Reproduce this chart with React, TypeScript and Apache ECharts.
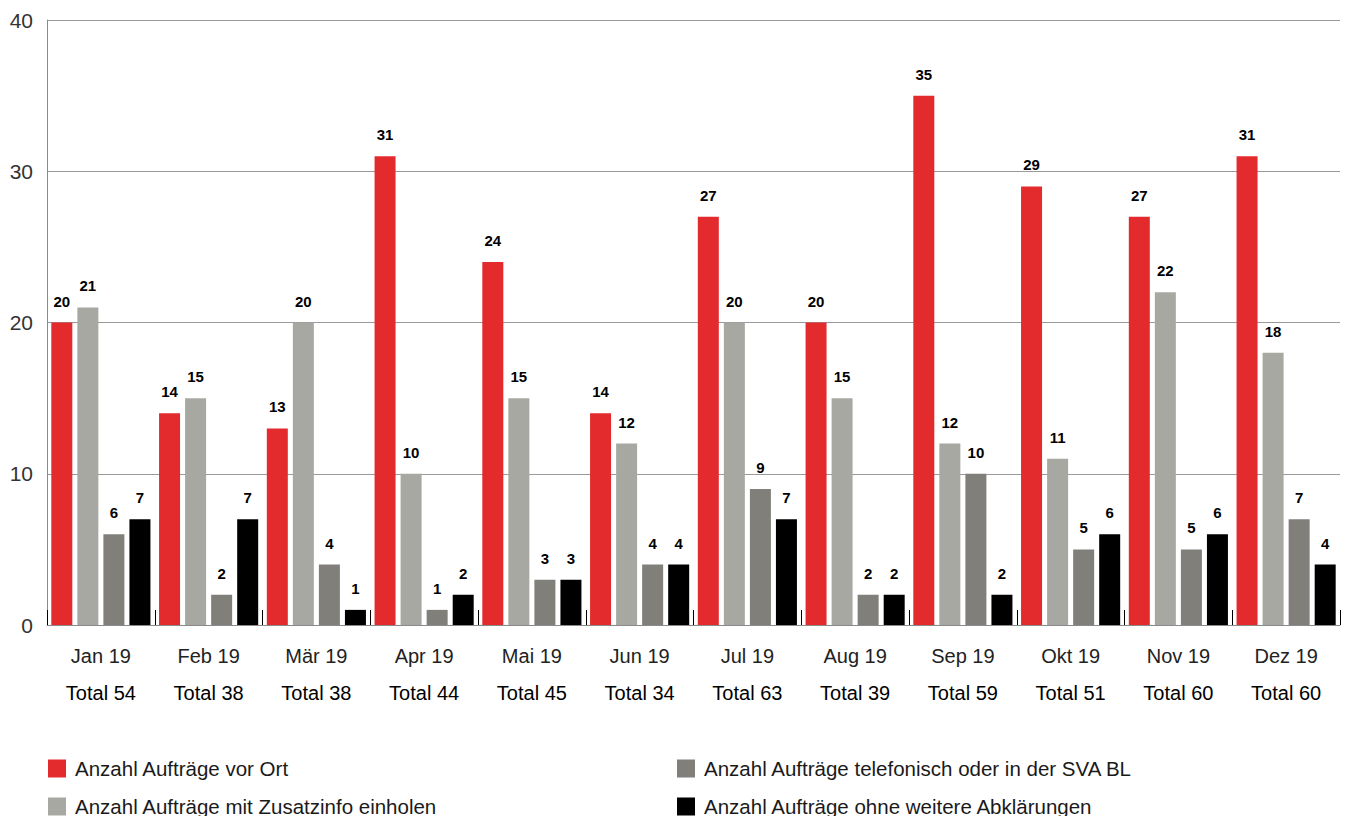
import React, { useEffect, useRef } from "react";
import * as echarts from "echarts";

const months = ["Jan 19", "Feb 19", "Mär 19", "Apr 19", "Mai 19", "Jun 19", "Jul 19", "Aug 19", "Sep 19", "Okt 19", "Nov 19", "Dez 19"];
const totals = [54, 38, 38, 44, 45, 34, 63, 39, 59, 51, 60, 60];
const vorOrt = [20, 14, 13, 31, 24, 14, 27, 20, 35, 29, 27, 31];
const zusatzinfo = [21, 15, 20, 10, 15, 12, 20, 15, 12, 11, 22, 18];
const telefonisch = [6, 2, 4, 1, 3, 4, 9, 2, 10, 5, 5, 7];
const ohneAbklaerung = [7, 7, 1, 2, 3, 4, 7, 2, 2, 6, 6, 4];
const yTicks = { min: 0, max: 40, interval: 10 };

const seriesNames = [
  "Anzahl Aufträge vor Ort",
  "Anzahl Aufträge mit Zusatzinfo einholen",
  "Anzahl Aufträge telefonisch oder in der SVA BL",
  "Anzahl Aufträge ohne weitere Abklärungen",
];
const seriesData = [vorOrt, zusatzinfo, telefonisch, ohneAbklaerung];
const colors = ["#E32B2D", "#A8A8A3", "#807F7A", "#000000"];

const FONT = "'Liberation Sans', Arial, Helvetica, sans-serif";

const legendBase = {
  top: 758,
  orient: "vertical",
  icon: "rect",
  itemWidth: 18,
  itemHeight: 18,
  itemGap: 17,
  padding: 0,
  height: 120,
  textStyle: { fontSize: 20.5, lineHeight: 18, color: "#1a1a1a", fontFamily: FONT, padding: [0, 0, 0, 4] },
};

export default function App() {
  const ref = useRef<HTMLDivElement>(null);
  useEffect(() => {
    if (!ref.current) return;
    const chart = echarts.init(ref.current, undefined, { renderer: "svg" });
    const categories = months.map((m, i) => m + "|" + totals[i]);
    chart.setOption({
      animation: false,
      textStyle: { fontFamily: FONT },
      grid: { left: 47, right: 6, top: 20, bottom: 191, containLabel: false },
      legend: [
        { ...legendBase, left: 48, data: [seriesNames[0], seriesNames[1]] },
        { ...legendBase, left: 677, data: [seriesNames[2], seriesNames[3]] },
      ],
      xAxis: {
        type: "category",
        data: categories,
        axisLine: { show: true, lineStyle: { color: "#8a8a8a", width: 1 } },
        axisTick: { show: true, inside: true, length: 15, lineStyle: { color: "#000", width: 1 } },
        axisLabel: {
          interval: 0,
          margin: 12,
          formatter: (v: string) => {
            const [m, t] = v.split("|");
            return "{a|" + m + "}\n{b|Total " + t + "}";
          },
          rich: {
            a: { fontSize: 20, lineHeight: 37, color: "#222", fontFamily: FONT },
            b: { fontSize: 20, lineHeight: 37, color: "#000", fontFamily: FONT },
          },
        },
      },
      yAxis: {
        type: "value",
        min: yTicks.min,
        max: yTicks.max,
        interval: yTicks.interval,
        axisLine: { show: true, lineStyle: { color: "#8a8a8a", width: 1 } },
        axisTick: { show: false },
        axisLabel: { fontSize: 21, color: "#333", margin: 14, fontFamily: FONT },
        splitLine: { show: true, lineStyle: { color: "#9a9a9a", width: 1 } },
      },
      series: seriesData.map((d, i) => ({
        name: seriesNames[i],
        type: "bar",
        data: d,
        barGap: "24%",
        barCategoryGap: "8%",
        itemStyle: { color: colors[i] },
        label: {
          show: true,
          position: "top",
          distance: 14,
          fontSize: 15,
          fontWeight: "bold",
          color: "#000",
          fontFamily: FONT,
        },
      })),
    });
    return () => chart.dispose();
  }, []);
  return <div ref={ref} style={{ position: "absolute", left: 0, top: 0, width: 1346, height: 816 }} />;
}
